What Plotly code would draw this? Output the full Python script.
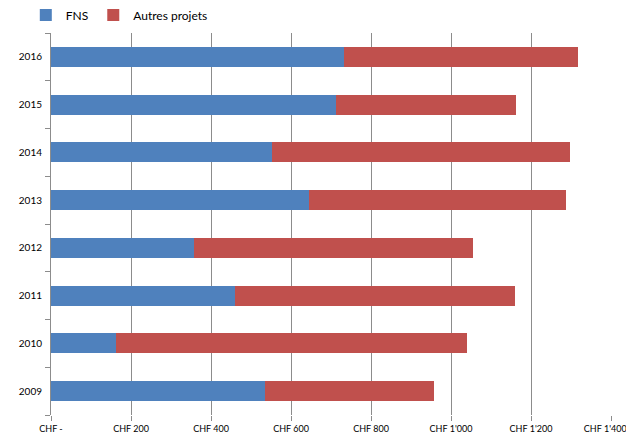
import plotly.graph_objects as go

years = ["2009", "2010", "2011", "2012", "2013", "2014", "2015", "2016"]
fns = [535, 162, 461, 357, 645, 552, 712, 732]
autres = [423, 879, 699, 698, 643, 745, 450, 585]
tick_vals = [0, 200, 400, 600, 800, 1000, 1200, 1400]
tick_text = ["CHF -", "CHF 200", "CHF 400", "CHF 600", "CHF 800", "CHF 1'000", "CHF 1'200", "CHF 1'400"]

font_family = "Lato, 'Open Sans', Arial, sans-serif"

# last label nudged left (as in the reference) so it stays inside the window
display_ticks = tick_text[:-1] + [tick_text[-1] + "\u00a0" * 5]

fig = go.Figure()
fig.add_trace(go.Bar(y=years, x=fns, orientation="h", name="FNS",
                     marker=dict(color="#4F81BD", line=dict(width=0))))
fig.add_trace(go.Bar(y=years, x=autres, orientation="h", name="Autres projets",
                     marker=dict(color="#C0504D", line=dict(width=0))))

# the page body adds an 8px offset; margins compensate for it
fig.update_layout(
    barmode="stack",
    bargap=0.58,
    width=634, height=435,
    margin=dict(l=43, r=31, t=25, b=28, autoexpand=False),
    plot_bgcolor="white", paper_bgcolor="white",
    font=dict(family=font_family, size=11, color="#000000"),
    legend=dict(orientation="h", traceorder="normal",
                x=-0.045, y=1.085, xanchor="left", yanchor="top",
                font=dict(size=12), itemwidth=30,
                bgcolor="rgba(0,0,0,0)"),
    xaxis=dict(range=[0, 1400], tickvals=tick_vals, ticktext=display_ticks,
               showgrid=True, gridcolor="#8c8c8c", gridwidth=1,
               zeroline=False, showline=False, automargin=False,
               ticks="outside", ticklen=5, tickcolor="#8c8c8c",
               tickfont=dict(size=9)),
    yaxis=dict(type="category", categoryorder="array", categoryarray=years,
               showgrid=False, showline=True, linecolor="#8c8c8c", linewidth=1,
               automargin=False,
               ticks="outside", tickson="boundaries", ticklen=5, tickcolor="#8c8c8c",
               tickfont=dict(size=10), ticklabelstandoff=6),
)

fig.write_html("out.html")
